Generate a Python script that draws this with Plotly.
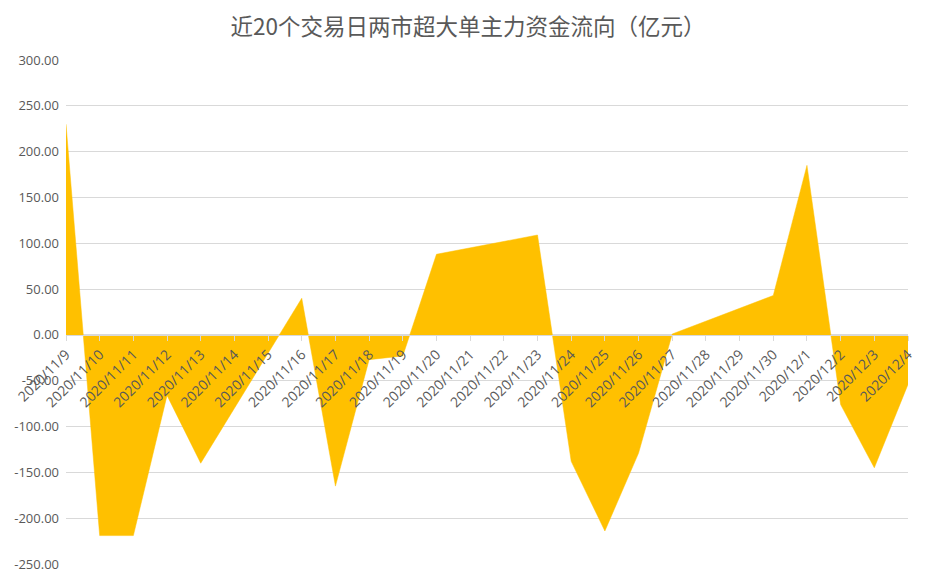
import plotly.graph_objects as go

# trading days (weekends are skipped, the date axis interpolates across them)
dates = ['2020-11-09', '2020-11-10', '2020-11-11', '2020-11-12', '2020-11-13',
         '2020-11-16', '2020-11-17', '2020-11-18', '2020-11-19', '2020-11-20',
         '2020-11-23', '2020-11-24', '2020-11-25', '2020-11-26', '2020-11-27',
         '2020-11-30', '2020-12-01', '2020-12-02', '2020-12-03', '2020-12-04']
flow = [230, -219, -219, -66, -140,
        40, -165, -27, -23, 88,
        109, -138, -214, -129, 1,
        43, 185, -76, -145, -54]

y_ticks = [300, 250, 200, 150, 100, 50, 0, -50, -100, -150, -200, -250]
y_min, y_max = -250, 300

fig = go.Figure()
fig.add_trace(go.Scatter(
    x=dates, y=flow, mode='lines', fill='tozeroy',
    line=dict(color='#FFC000', width=0.5),
    fillcolor='#FFC000', hoverinfo='x+y', showlegend=False,
))

# the page puts the figure 8px in from the top-left corner
fig.update_layout(
    width=920, height=568,
    margin=dict(l=58, r=20, t=52, b=12),
    paper_bgcolor='white', plot_bgcolor='white',
    font=dict(family='Open Sans, Noto Sans CJK SC', color='#595959'),
    title=dict(text='近20个交易日两市超大单主力资金流向（亿元）',
               x=0.5, xanchor='center', y=0.967, yanchor='middle',
               font=dict(family='Noto Sans CJK SC', size=22.5, color='#595959')),
)
fig.update_xaxes(
    type='date', range=['2020-11-09', '2020-12-04'],
    dtick=86400000, tick0='2020-11-09', tickformat='%Y/%-m/%-d',
    tickangle=-45, tickfont=dict(size=14, color='#595959'),
    showgrid=False, zeroline=False,
    showline=True, linecolor='#D9D9D9', linewidth=1,
    ticks='outside', ticklen=5, tickcolor='#D9D9D9',
    anchor='free', position=(0 - y_min) / (y_max - y_min),
    automargin=False,
)
fig.update_yaxes(
    range=[y_min, y_max], tickvals=y_ticks,
    ticktext=['%.2f' % v for v in y_ticks],
    tickfont=dict(size=13, color='#595959'),
    showgrid=True, gridcolor='#D9D9D9', gridwidth=1,
    zeroline=False, showline=False, automargin=False,
    ticklabelstandoff=6,
)

fig.write_html("out.html")
